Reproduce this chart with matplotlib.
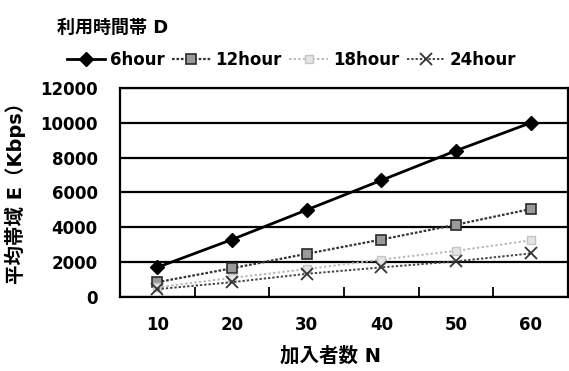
import matplotlib
matplotlib.use("Agg")
import matplotlib.pyplot as plt
import numpy as np

plt.rcParams['font.family'] = ['DejaVu Sans', 'Noto Sans CJK JP']
plt.rcParams['font.weight'] = 'bold'

# subscribers N
subscribers = [10, 20, 30, 40, 50, 60]
# average bandwidth E (Kbps) per usage window
bw_6h = [1700, 3300, 5000, 6700, 8400, 10000]
bw_12h = [850, 1650, 2480, 3300, 4150, 5050]
bw_18h = [560, 1100, 1600, 2150, 2650, 3250]
bw_24h = [450, 850, 1330, 1700, 2050, 2500]
labels = ["6hour", "12hour", "18hour", "24hour"]

fig = plt.figure(figsize=(5.69, 3.71), dpi=100)
ax = fig.add_axes([120/569, 74/371, 448/569, 209/371])

x = np.arange(len(subscribers))
styles = [
    dict(color='black', lw=2.0, ls='-', marker='D', ms=7, mfc='black', mec='black'),
    dict(color='#333333', lw=1.6, ls=(0, (1.2, 0.8)), marker='s', ms=6.5, mfc='#9a9a9a', mec='#2a2a2a', mew=1.2),
    dict(color='#b8b8b8', lw=1.4, ls=(0, (1.2, 1.2)), marker='s', ms=6, mfc='#e4e4e4', mec='#c4c4c4', mew=1.0),
    dict(color='#444444', lw=1.4, ls=(0, (1.2, 1.0)), marker='x', ms=8, mec='#333333', mew=1.3),
]
handles = []
for ys, st, lab in zip([bw_6h, bw_12h, bw_18h, bw_24h], styles, labels):
    h, = ax.plot(x, ys, label=lab, zorder=4, **st)
    handles.append(h)

ax.set_xlim(-0.5, len(subscribers) - 0.5)
ax.set_ylim(0, 12000)
ax.set_yticks(np.arange(0, 12001, 2000))
ax.yaxis.grid(True, color='black', lw=1.6)
ax.set_axisbelow(True)

# category axis: ticks between categories, labels at centres
ax.set_xticks(np.arange(0.5, len(subscribers) - 0.5, 1.0))
ax.set_xticklabels([])
ax.set_xticks(x, minor=True)
ax.set_xticklabels([str(s) for s in subscribers], minor=True)
ax.tick_params(axis='x', which='major', direction='in', length=7, width=1.3)
ax.tick_params(axis='x', which='minor', length=0, pad=14, labelsize=12)
ax.tick_params(axis='y', length=0, pad=16, labelsize=12)
for lab in ax.get_xticklabels(minor=True) + ax.get_yticklabels():
    lab.set_fontweight('bold')

for sp in ax.spines.values():
    sp.set_linewidth(1.6)
    sp.set_color('black')

ax.set_xlabel("加入者数 N", fontsize=14, fontweight='bold')
ax.set_ylabel("平均帯域 E（Kbps）", fontsize=14, fontweight='bold')
ax.xaxis.set_label_coords(0.47, -0.235)
ax.yaxis.set_label_coords(-0.21, 0.52)

fig.text(57/569, 1 - 28/371, "利用時間帯 D", fontsize=13, fontweight='bold',
         ha='left', va='center')
fig.legend(handles=handles, loc='center left', bbox_to_anchor=(60/569, 1 - 60/371),
           ncol=4, frameon=False, handlelength=2.3, handletextpad=0.3,
           columnspacing=0.45, prop=dict(size=12, weight='bold'), borderaxespad=0)

fig.savefig("out.png", dpi=100)
